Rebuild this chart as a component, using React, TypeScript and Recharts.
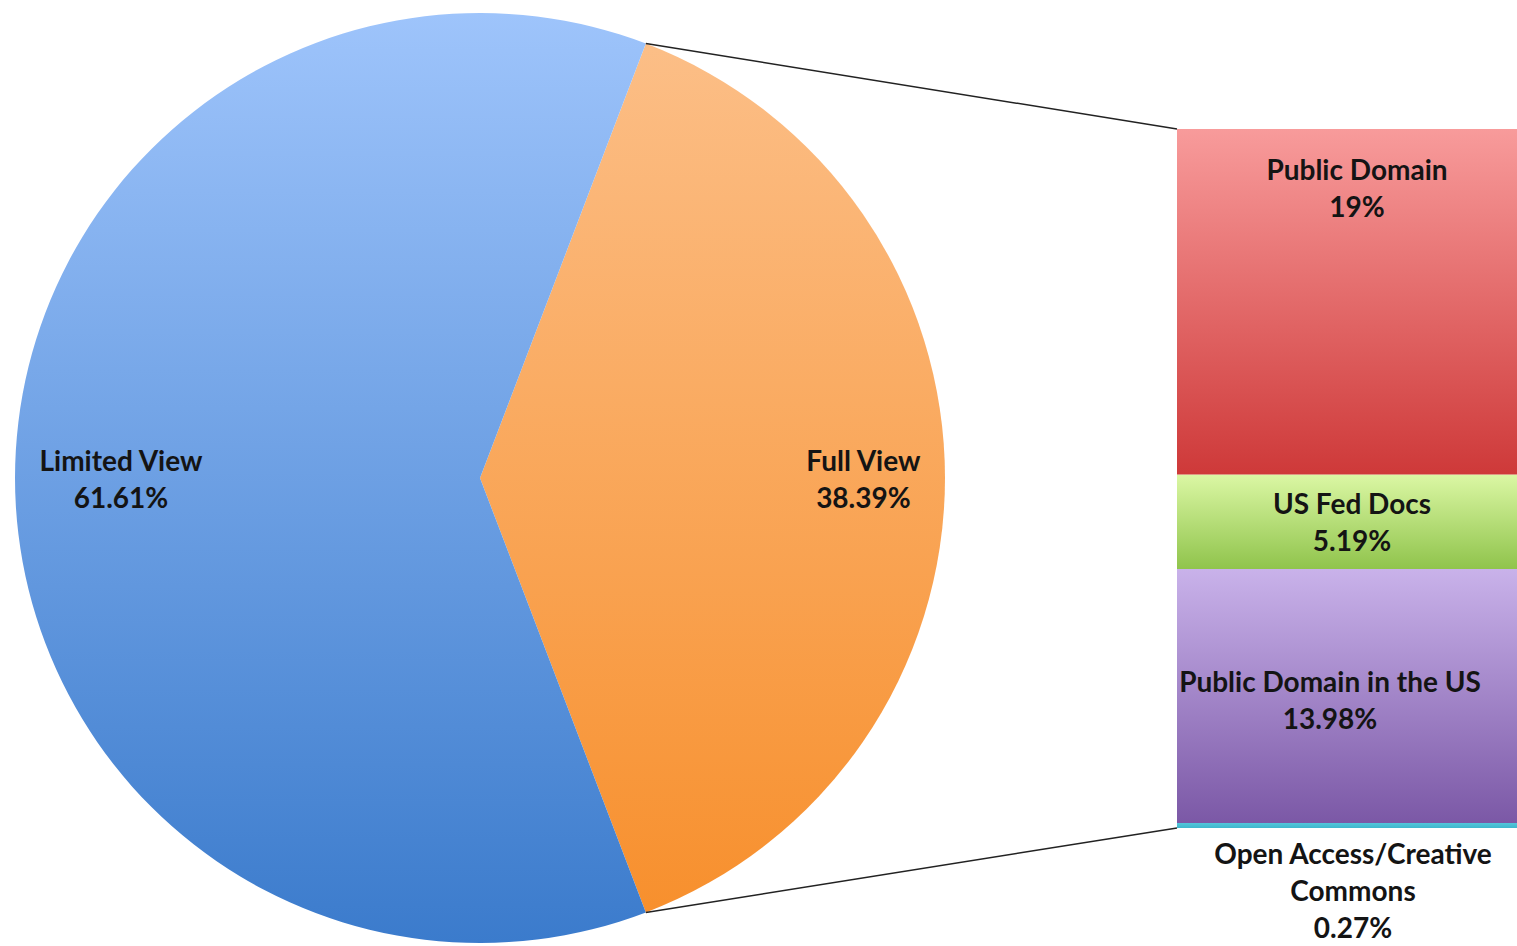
import React from 'react';
import { PieChart, Pie, Cell, BarChart, Bar, XAxis, YAxis, LabelList } from 'recharts';

// ---- data ----
const PIE_NAMES = ['Full View', 'Limited View'];
const PIE_VALUES = [38.39, 61.61];

// detail of "Full View", listed bottom -> top of the stacked bar
const DETAIL_KEYS = ['oa', 'pdus', 'fed', 'pd'];
const DETAIL_NAMES = ['Open Access/Creative\nCommons', 'Public Domain in the US', 'US Fed Docs', 'Public Domain'];
const DETAIL_VALUES = [0.27, 13.98, 5.19, 19];

// ---- layout / style ----
const W = 1517;
const H = 946;
const PIE_CX = 480;
const PIE_CY = 478;
const PIE_R = 465;
const BAR_LEFT = 1177;
const BAR_WIDTH = 356;
const BAR_TOP = 129;
const BAR_BOTTOM = 828;
const FONT_FAMILY = 'Lato, "Open Sans", sans-serif';
const FONT_SIZE = 28;
const LINE_H = 37;
const TEXT_COLOR = '#141414';
const LABEL_INSET = 24;

const PIE_GRADS = [
  ['#FCC08A', '#F78E2A'],
  ['#9EC4FB', '#3B7BCC'],
];
const DETAIL_GRADS = [
  ['#52C6DA', '#3FB6CC'],
  ['#C9B2EA', '#7B58A6'],
  ['#DBF7A4', '#90C44C'],
  ['#F89B9B', '#CE3939'],
];
const DETAIL_LABEL_MODE = ['below', 'center', 'center', 'top'];
const DETAIL_LABEL_DX = [-2, -25, -3, 2];
const DETAIL_LABEL_DY = [0, 4, 0, -1];

const RAD = Math.PI / 180;
let ctx: CanvasRenderingContext2D | null = null;
const measure = (t: string) => {
  if (!ctx) ctx = document.createElement('canvas').getContext('2d');
  if (!ctx) return t.length * FONT_SIZE * 0.5;
  ctx.font = `bold ${FONT_SIZE}px ${FONT_FAMILY}`;
  return ctx.measureText(t).width;
};

const fmt = (v: number) => `${v}%`;

const pieData = PIE_NAMES.map((name, i) => ({ name, value: PIE_VALUES[i] }));
const barRow: Record<string, any> = { name: 'Full View' };
DETAIL_KEYS.forEach((k, i) => (barRow[k] = DETAIL_VALUES[i]));
const barData = [barRow];
const detailTotal = DETAIL_VALUES.reduce((a, b) => a + b, 0);

const startAngle = (PIE_VALUES[0] / 100) * 180;

const MultiText = ({ x, y, lines }: { x: number; y: number; lines: string[] }) => {
  const off = ((lines.length - 1) * LINE_H) / 2;
  return (
    <text
      x={x}
      y={y}
      textAnchor="middle"
      fontFamily={FONT_FAMILY}
      fontSize={FONT_SIZE}
      fontWeight="bold"
      fill={TEXT_COLOR}
    >
      {lines.map((l, i) => (
        <tspan key={i} x={x} y={y - off + i * LINE_H} dominantBaseline="central">
          {l}
        </tspan>
      ))}
    </text>
  );
};

const renderPieLabel = (props: any) => {
  const { cx, cy, midAngle, outerRadius, index } = props;
  const lines = [PIE_NAMES[index], fmt(PIE_VALUES[index])];
  const w = Math.max(...lines.map(measure));
  const d = outerRadius - LABEL_INSET - w / 2;
  const x = cx + d * Math.cos(-midAngle * RAD);
  const y = cy + d * Math.sin(-midAngle * RAD);
  return <MultiText key={`pl${index}`} x={x} y={y} lines={lines} />;
};

const makeBarLabel = (i: number) => (props: any) => {
  const { x, y, width, height } = props;
  const lines = [...DETAIL_NAMES[i].split('\n'), fmt(DETAIL_VALUES[i])];
  const cx = Number(x) + Number(width) / 2 + DETAIL_LABEL_DX[i];
  const mode = DETAIL_LABEL_MODE[i];
  const blockH = (lines.length - 1) * LINE_H;
  let cy: number;
  if (mode === 'top') cy = Number(y) + 41 + blockH / 2;
  else if (mode === 'below') cy = Number(y) + Number(height) + 25 + blockH / 2;
  else cy = Number(y) + Number(height) / 2;
  return <MultiText x={cx} y={cy + DETAIL_LABEL_DY[i]} lines={lines} />;
};

export default function App() {
  const a = startAngle * RAD;
  const topPt = { x: PIE_CX + PIE_R * Math.cos(a), y: PIE_CY - PIE_R * Math.sin(a) };
  const botPt = { x: PIE_CX + PIE_R * Math.cos(a), y: PIE_CY + PIE_R * Math.sin(a) };
  return (
    <div
      style={{
        position: 'absolute',
        left: 0,
        top: 0,
        width: W,
        height: H,
        overflow: 'hidden',
        background: '#fff',
      }}
    >
      <div style={{ position: 'absolute', left: 0, top: 0 }}>
        <PieChart width={PIE_CX + PIE_R + 20} height={H} margin={{ top: 0, right: 0, bottom: 0, left: 0 }}>
          <defs>
            {PIE_GRADS.map((g, i) => (
              <linearGradient
                key={i}
                id={`pg${i}`}
                gradientUnits="userSpaceOnUse"
                x1={0}
                y1={PIE_CY - PIE_R}
                x2={0}
                y2={PIE_CY + PIE_R}
              >
                <stop offset="0%" stopColor={g[0]} />
                <stop offset="100%" stopColor={g[1]} />
              </linearGradient>
            ))}
          </defs>
          <Pie
            data={pieData}
            dataKey="value"
            nameKey="name"
            cx={PIE_CX}
            cy={PIE_CY}
            outerRadius={PIE_R}
            innerRadius={0}
            startAngle={startAngle}
            endAngle={startAngle - 360}
            stroke="none"
            label={renderPieLabel}
            labelLine={false}
            isAnimationActive={false}
          >
            {pieData.map((_, i) => (
              <Cell key={i} fill={`url(#pg${i})`} />
            ))}
          </Pie>
        </PieChart>
      </div>
      <div style={{ position: 'absolute', left: BAR_LEFT, top: 0 }}>
        <BarChart
          width={BAR_WIDTH}
          height={H}
          data={barData}
          margin={{ top: BAR_TOP, right: 0, bottom: H - BAR_BOTTOM, left: 0 }}
          barCategoryGap={0}
          barGap={0}
          style={{ overflow: 'visible' }}
        >
          <defs>
            {DETAIL_GRADS.map((g, i) => (
              <linearGradient key={i} id={`dg${i}`} x1="0" y1="0" x2="0" y2="1">
                <stop offset="0%" stopColor={g[0]} />
                <stop offset="100%" stopColor={g[1]} />
              </linearGradient>
            ))}
          </defs>
          <XAxis dataKey="name" type="category" hide />
          <YAxis type="number" domain={[0, detailTotal]} allowDataOverflow hide />
          {DETAIL_KEYS.map((k, i) => (
            <Bar key={k} dataKey={k} stackId="s" fill={`url(#dg${i})`} isAnimationActive={false}>
              <LabelList dataKey={k} content={makeBarLabel(i)} />
            </Bar>
          ))}
        </BarChart>
      </div>
      <svg
        width={W}
        height={H}
        style={{ position: 'absolute', left: 0, top: 0, pointerEvents: 'none' }}
      >
        <line x1={topPt.x} y1={topPt.y} x2={BAR_LEFT} y2={BAR_TOP} stroke="#222" strokeWidth={1.5} />
        <line x1={botPt.x} y1={botPt.y} x2={BAR_LEFT} y2={BAR_BOTTOM} stroke="#222" strokeWidth={1.5} />
      </svg>
    </div>
  );
}
